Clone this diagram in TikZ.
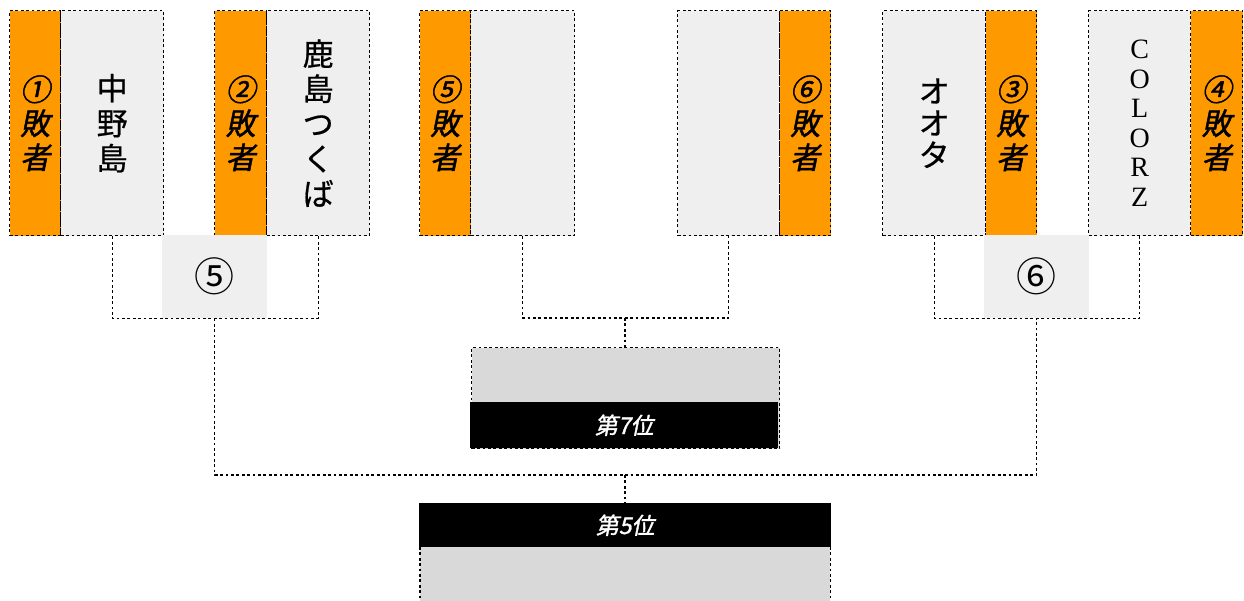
\documentclass[tikz,border=0pt]{standalone}
\usepackage{fontspec}
\newfontfamily\cjk{Noto Sans CJK JP}[FakeBold=0.6]
\newfontfamily\cjkplain{Noto Sans CJK JP}
\newfontfamily\cjkit{Noto Sans CJK JP}[FakeSlant=0.2,FakeBold=1.5]
\newfontfamily\serifl{Liberation Serif}
\definecolor{orng}{HTML}{FF9900}
\definecolor{lgray}{HTML}{EFEFEF}
\definecolor{mgray}{HTML}{D9D9D9}
\tikzset{
  dot/.style={draw=black, line width=1.4pt, dash pattern=on 2.8pt off 2.6pt},
  loser/.style={fill=orng, dot, inner sep=0pt, minimum height=225pt, anchor=north west,
     align=center, font=\cjkit\fontsize{30}{34}\selectfont},
  team/.style={fill=lgray, dot, inner sep=0pt, minimum height=225pt, anchor=north west,
     align=center, font=\cjk\fontsize{31}{35}\selectfont},
  matchbox/.style={fill=lgray, inner sep=0pt, minimum width=105pt, minimum height=83pt,
     anchor=north west, font=\cjkplain\fontsize{40}{44}\selectfont},
  rankbar/.style={fill=black, text=white, inner sep=0pt, anchor=north west,
     font=\cjkit\fontsize{23}{26}\selectfont},
  conn/.style={dot}
}
\begin{document}
\begin{tikzpicture}[x=1pt,y=-1pt]
\useasboundingbox (0,0) rectangle (1244,600);
% group 1
\node[loser, minimum width=51pt] (l1) at (9,10) {①\\敗\\者};
\node[team, minimum width=103pt] (t1) at (60,10) {中\\野\\島};
% group 2
\node[loser, minimum width=52pt] (l2) at (214,10) {②\\敗\\者};
\node[team, minimum width=103pt] (t2) at (266,10) {鹿\\島\\つ\\く\\ば};
% group 5 loser
\node[loser, minimum width=51pt] (l5) at (419,10) {⑤\\敗\\者};
\node[team, minimum width=104pt] (t5) at (470,10) {};
% group 6 loser
\node[team, minimum width=102pt] (t6) at (677,10) {};
\node[loser, minimum width=51pt] (l6) at (779,10) {⑥\\敗\\者};
% group 3
\node[team, minimum width=103pt, font=\cjk\fontsize{31}{32}\selectfont] (t3) at (882,10) {オ\\オ\\タ};
\node[loser, minimum width=51pt] (l3) at (985,10) {③\\敗\\者};
% group 4
\node[team, minimum width=102pt, font=\serifl\fontsize{28}{29.5}\selectfont] (t4) at (1088,10) {C\\O\\L\\O\\R\\Z};
\node[loser, minimum width=52pt] (l4) at (1190,10) {④\\敗\\者};

% match boxes
\node[matchbox] (m5) at (162,235) {⑤};
\node[matchbox] (m6) at (984,235) {⑥};

% 7th place
\node[fill=mgray, dot, inner sep=0pt, minimum width=308pt, minimum height=101pt, anchor=north west] (p7) at (471,347) {};
\node[rankbar, minimum width=308pt, minimum height=46pt] (r7) at (470,402) {第7位};

% 5th place
\node[rankbar, minimum width=412pt, minimum height=44pt] (r5) at (419,503) {第5位};
\node[fill=mgray, inner sep=0pt, minimum width=410pt, minimum height=60pt, anchor=north west] (p5) at (420,547) {};
\draw[dot] (p5.north west) -- (p5.south west);
\draw[dot] (p5.north east) -- (p5.south east);

% connectors
\coordinate (j5) at (m5.south);
\coordinate (jm) at (625,318);
\coordinate (j6) at (m6.south);
\coordinate (jf) at (625,475);
\draw[conn] (t1.south) |- (j5) -| (t2.south);
\draw[conn] (t5.south) |- (jm) -| (t6.south);
\draw[conn] (t3.south) |- (j6) -| (t4.south);
\draw[conn] (jm) -- (p7.north -| jm);
\draw[conn] (j5) |- (jf) -| (j6);
\draw[conn] (jf) -- (r5.north -| jf);
\end{tikzpicture}
\end{document}
